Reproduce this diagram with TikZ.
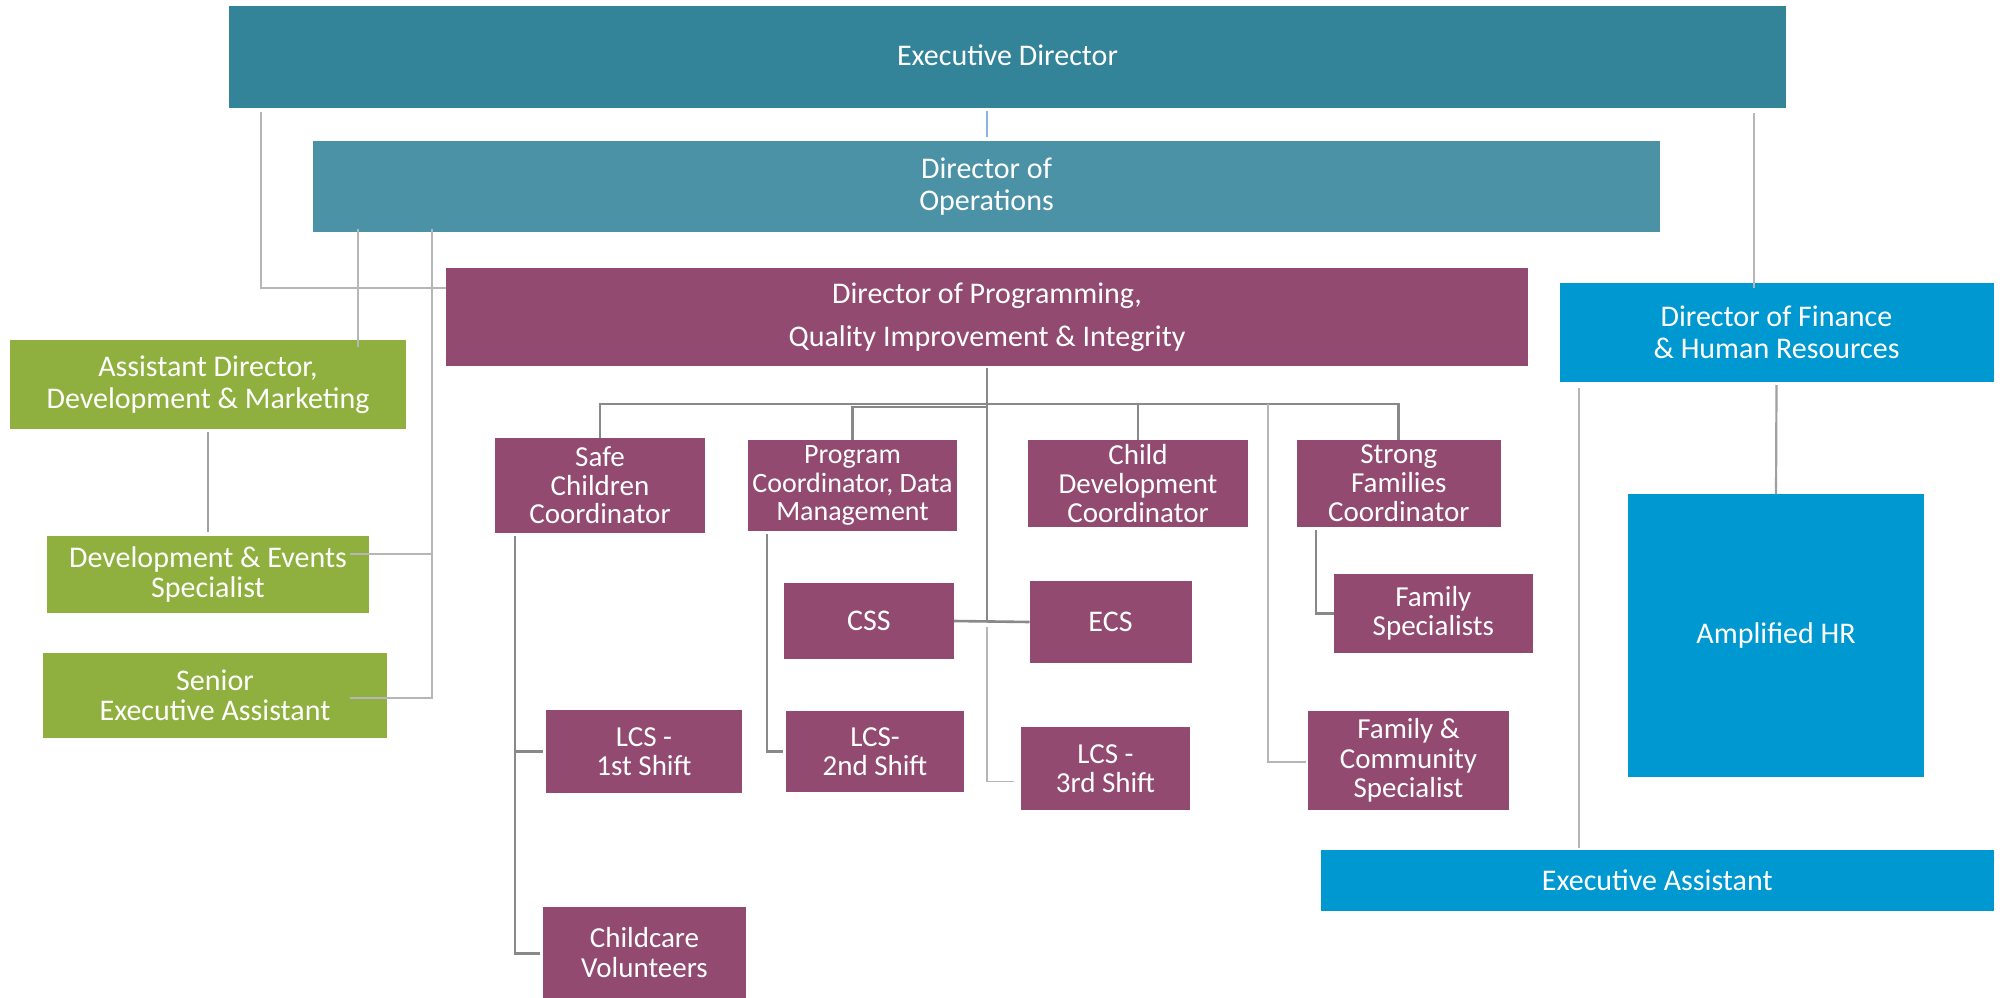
\documentclass[tikz,border=0pt]{standalone}
\usepackage{fontspec}
\setmainfont{Carlito}
\definecolor{execc}{RGB}{51,131,153}
\definecolor{opsc}{RGB}{75,146,166}
\definecolor{purp}{RGB}{147,74,112}
\definecolor{grn}{RGB}{143,176,62}
\definecolor{blu}{RGB}{0,152,208}
\definecolor{lgr}{RGB}{182,182,182}
\definecolor{mgr}{RGB}{160,160,160}
\definecolor{dgr}{RGB}{137,137,137}
\definecolor{lblu}{RGB}{141,179,226}
\tikzset{
  box/.style={draw=none, text=white, align=center, inner sep=0pt, outer sep=0pt,
    anchor=north west, font=\fontsize{30}{30.5}\selectfont},
  lline/.style={draw=lgr, line width=1.6pt},
  mline/.style={draw=mgr, line width=2.2pt},
  dline/.style={draw=dgr, line width=2.6pt},
  bline/.style={draw=lblu, line width=2pt},
}
\begin{document}
\begin{tikzpicture}[x=1pt,y=-1pt]
\useasboundingbox (0,0) rectangle (2005,998);
% boxes
\node[box, fill=execc, minimum width=1557pt, minimum height=102pt] (exec) at (229,6) {\raisebox{3pt}{Executive Director}};
\node[box, fill=opsc, minimum width=1347pt, minimum height=91pt, font=\fontsize{30}{32}\selectfont] (ops) at (313,141) {Director of\\Operations};
\node[box, fill=purp, minimum width=1082pt, minimum height=98pt, font=\fontsize{30}{43}\selectfont] (prog) at (446,268) {Director of Programming,\\Quality Improvement \& Integrity};
\node[box, fill=blu, minimum width=434pt, minimum height=99pt, font=\fontsize{30}{32}\selectfont] (fin) at (1559.5,283) {Director of Finance\\\& Human Resources};
\node[box, fill=grn, minimum width=396pt, minimum height=89pt, font=\fontsize{30}{32}\selectfont] (asst) at (10,340) {Assistant Director,\\Development \& Marketing};
\node[box, fill=grn, minimum width=322pt, minimum height=77pt] (dev) at (47,536) {Development \& Events\\Specialist};
\node[box, fill=grn, minimum width=344pt, minimum height=85pt] (sea) at (43,653) {Senior\\Executive Assistant};
\node[box, fill=purp, minimum width=210pt, minimum height=95pt, font=\fontsize{29}{28.5}\selectfont] (safe) at (495,438) {Safe\\Children\\Coordinator};
\node[box, fill=purp, minimum width=209pt, minimum height=91pt, font=\fontsize{28}{28.5}\selectfont] (pc) at (748,440) {Program\\Coordinator, Data\\Management};
\node[box, fill=purp, minimum width=220pt, minimum height=87pt, font=\fontsize{29}{29}\selectfont] (cd) at (1028,440) {Child\\Development\\Coordinator};
\node[box, fill=purp, minimum width=203.5pt, minimum height=87pt, font=\fontsize{29}{29}\selectfont] (sf) at (1297,440) {Strong\\Families\\Coordinator};
\node[box, fill=purp, minimum width=170pt, minimum height=76pt] (css) at (784,583) {CSS};
\node[box, fill=purp, minimum width=162pt, minimum height=82pt] (ecs) at (1029.5,581) {ECS};
\node[box, fill=purp, minimum width=196pt, minimum height=83pt, font=\fontsize{29}{29.5}\selectfont] (lcs1) at (546,710) {LCS -\\1st Shift};
\node[box, fill=purp, minimum width=178pt, minimum height=81pt, font=\fontsize{29}{29.5}\selectfont] (lcs2) at (786,711) {LCS-\\2nd Shift};
\node[box, fill=purp, minimum width=169pt, minimum height=83pt, font=\fontsize{29}{29.5}\selectfont] (lcs3) at (1021,727) {LCS -\\3rd Shift};
\node[box, fill=purp, minimum width=203pt, minimum height=91pt, font=\fontsize{29}{29.5}\selectfont] (ccv) at (543,907) {Childcare\\Volunteers};
\node[box, fill=purp, minimum width=198.6pt, minimum height=79pt, font=\fontsize{29}{29.5}\selectfont] (fs) at (1334,574) {Family\\Specialists};
\node[box, fill=purp, minimum width=201pt, minimum height=99pt, font=\fontsize{29}{29.5}\selectfont] (fcs) at (1308,711) {Family \&\\Community\\Specialist};
\node[box, fill=blu, minimum width=296pt, minimum height=283pt] (amp) at (1628,494) {Amplified HR};
\node[box, fill=blu, minimum width=672.5pt, minimum height=61pt] (ea) at (1321,850) {Executive Assistant};
\coordinate (busY) at ([yshift=36pt]sf.north);
% connectors
\draw[bline] ([yshift=-3pt]exec.south -| ops.north) -- ([yshift=4pt]ops.north);
\draw[lline] ([xshift=32pt,yshift=-4pt]exec.south west) |- ([yshift=29pt]prog.west);
\draw[lline] ([xshift=45pt,yshift=3pt]ops.south west) -- ([xshift=45pt,yshift=-7pt]ops.south west |- asst.north);
\draw[lline] ([xshift=119pt,yshift=3pt]ops.south west) |- ([xshift=-37pt,yshift=-2.5pt]sea.east);
\draw[lline] ([xshift=-19pt,yshift=20.5pt]dev.east) -| ([xshift=119pt]ops.south west);
\draw[mline] ([yshift=-3pt]asst.south) -- ([yshift=4pt]dev.north);
\draw[dline] ([yshift=-2pt]prog.south) -- (prog.south |- css.east);
\draw[dline] (css.east) -- (ecs.west);
\draw[dline] (safe.north) -- ([yshift=34pt]safe.north) -- (busY) -- (sf.north);
\draw[dline] (pc.north) -- ([yshift=33pt]pc.north) -- ([yshift=33pt]prog.south |- pc.north);
\draw[dline] (cd.north) -- ([yshift=36pt]cd.north);
\draw[lline] ([yshift=-6pt]prog.south |- css.east) |- ([xshift=-7pt,yshift=-13pt]lcs3.west);
\draw[lline] ([xshift=-40pt]fcs.west |- busY) |- ([xshift=-2pt,yshift=-1.5pt]fcs.west);
\draw[dline] ([xshift=20pt,yshift=-3pt]safe.south west) |- ([xshift=-3pt,yshift=-1pt]ccv.west);
\draw[dline] ([xshift=-3pt]lcs1.west) -| ([xshift=20pt,yshift=-3pt]safe.south west);
\draw[dline] ([xshift=19pt,yshift=-3pt]pc.south west) |- ([xshift=-3pt]lcs2.west);
\draw[dline] ([xshift=19pt,yshift=-3pt]sf.south west) |- (fs.west);
\draw[lline] ([xshift=-22.5pt,yshift=-5pt]fin.north |- exec.south) -- ([xshift=-22.5pt,yshift=-5pt]fin.north);
\draw[mline] ([yshift=-3pt]fin.south) -- (amp.north);
\draw[lline] ([xshift=19.5pt,yshift=-6pt]fin.south west) -- ([xshift=19.5pt,yshift=2pt]fin.south west |- ea.north);
\end{tikzpicture}
\end{document}
